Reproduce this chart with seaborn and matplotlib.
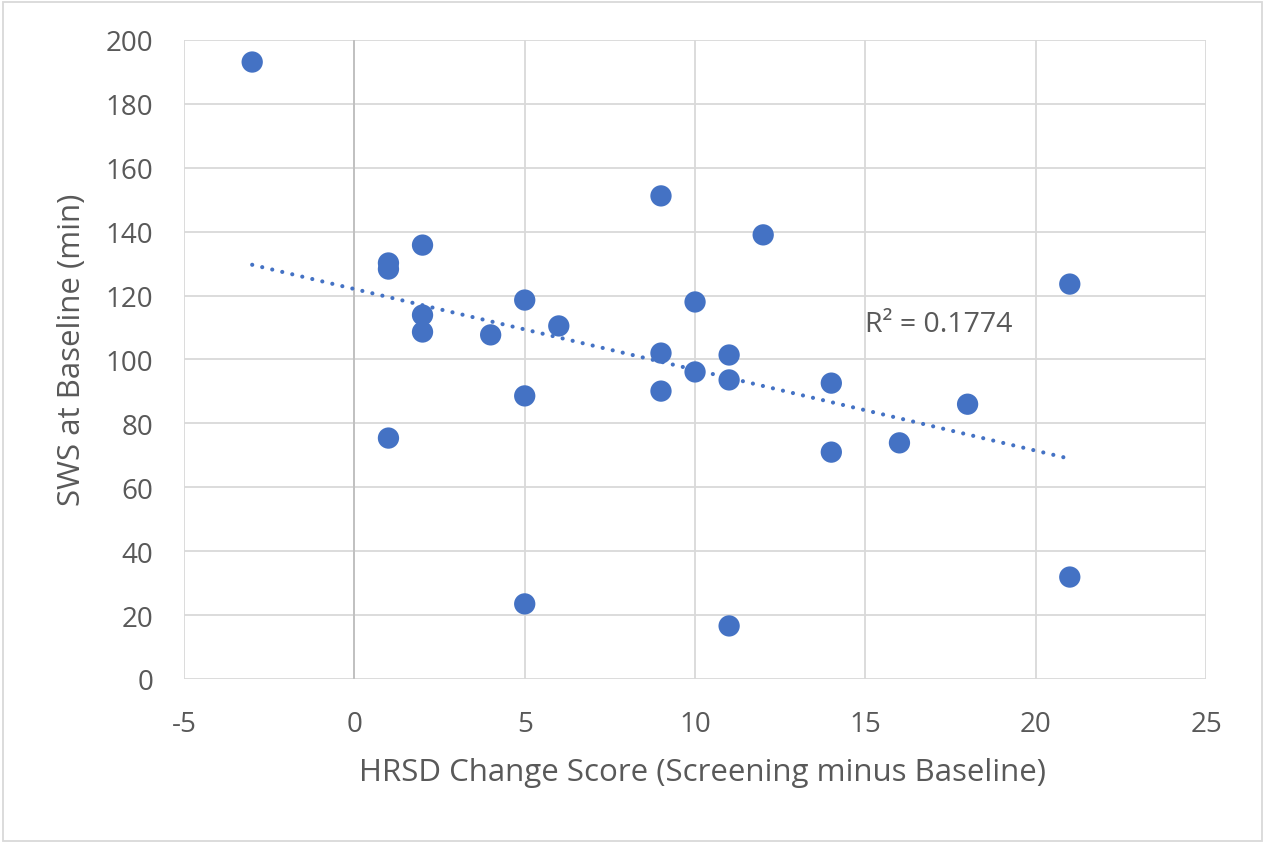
import numpy as np
import pandas as pd
import seaborn as sns
import matplotlib.pyplot as plt
from matplotlib.patches import Rectangle

# HRSD change score vs SWS at baseline
hrsd = [-3, 1, 1, 1, 2, 2, 2, 4, 5, 5, 5, 6, 9, 9, 9, 10, 10, 11, 11, 11, 12, 14, 14, 16, 18, 21, 21]
sws = [193.1, 130.2, 128.3, 75.4, 135.8, 113.9, 108.6, 107.7, 118.6, 88.6, 23.5, 110.5,
       151.2, 102.0, 90.1, 118.0, 96.1, 101.4, 93.6, 16.6, 139.0, 92.6, 71.0, 73.9, 86.0,
       123.6, 31.9]
r2_label = "R² = 0.1774"

df = pd.DataFrame({"hrsd": hrsd, "sws": sws})

sns.set_theme(style="white")
plt.rcParams['font.family'] = ['Open Sans', 'DejaVu Sans']
plt.rcParams['axes.unicode_minus'] = False
grey = "#595959"
blue = "#4472C4"

fig = plt.figure(figsize=(12.65, 8.45), dpi=100)
ax = fig.add_axes([0.1455, 0.1953, 0.8079, 0.7562])

# linear trendline over data range
slope, icpt = np.polyfit(df.hrsd, df.sws, 1)
tx = np.array([df.hrsd.min(), df.hrsd.max()])
ax.plot(tx, slope * tx + icpt, color=blue, lw=3.0, linestyle=(0, (0.01, 2.46)),
        dash_capstyle="round", zorder=2)

sns.scatterplot(data=df, x="hrsd", y="sws", ax=ax, s=235, color=blue,
                edgecolor="none", zorder=3)

ax.set_xlim(-5, 25)
ax.set_ylim(0, 200)
ax.set_xticks(range(-5, 26, 5))
ax.set_yticks(range(0, 201, 20))
ax.grid(True, color="#D9D9D9", lw=1.3)
ax.axvline(0, color="#BFBFBF", lw=1.3, zorder=1)
ax.set_axisbelow(True)
for s in ax.spines.values():
    s.set_visible(False)
ax.tick_params(length=0, labelsize=20, colors=grey)
ax.tick_params(axis="y", pad=22)
ax.tick_params(axis="x", pad=22)

ax.set_xlabel("HRSD Change Score (Screening minus Baseline)", fontsize=22.5, color=grey, va="center")
ax.set_ylabel("SWS at Baseline (min)", fontsize=22.5, color=grey, va="center")
ax.xaxis.set_label_coords(0.507, -0.1455)
ax.yaxis.set_label_coords(-0.1096, 0.517)

ax.text(14.99, 111.1, r2_label, fontsize=20.5, color=grey, va="center", ha="left")

fig.patches.append(Rectangle((0.002, 0.003), 0.996, 0.994, transform=fig.transFigure,
                             fill=False, edgecolor="#D9D9D9", lw=1.3))

fig.savefig("out.png", dpi=100)
